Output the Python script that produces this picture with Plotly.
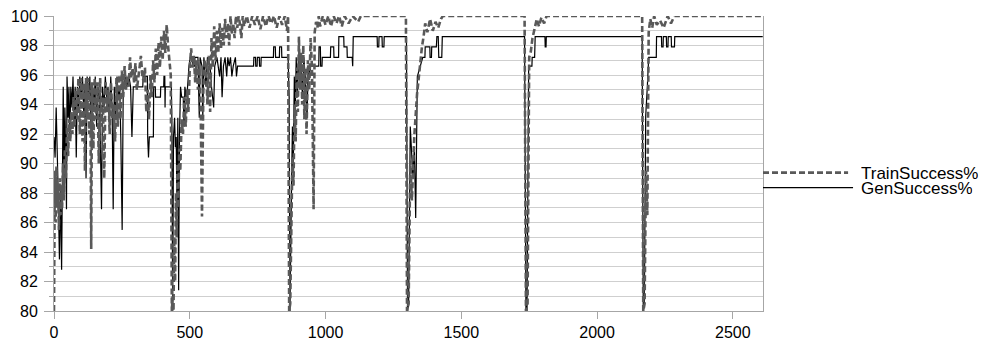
import plotly.graph_objects as go

# ---------------- data ----------------
gen_x = [0, 4, 8, 12, 16, 20, 24, 28, 31, 34, 37, 40, 43, 46, 48, 52, 55, 58, 62, 66,
         70, 74, 78, 82, 86, 90, 95, 100, 105, 110, 114, 118, 122, 127, 132, 137, 142, 147, 152, 157,
         162, 167, 171, 175, 179, 184, 189, 194, 199, 204, 209, 214, 218, 222, 227, 232, 237, 242, 246, 251,
         255, 262, 268, 276, 282, 287, 292, 327, 328, 344, 345, 348, 351, 366, 367, 373, 374, 392, 393, 404,
         405, 408, 409, 410, 432, 434, 437, 440, 444, 447, 450, 453, 456, 459, 462, 466, 470, 476, 479, 482,
         487, 492, 497, 502, 510, 512, 517, 519, 530, 535, 538, 545, 548, 552, 560, 565, 575, 580, 588, 592,
         600, 610, 615, 619, 624, 630, 636, 640, 645, 650, 655, 660, 668, 672, 676, 686, 735, 736, 742, 743,
         748, 749, 756, 757, 762, 763, 808, 809, 815, 816, 830, 831, 838, 839, 862, 866, 869, 874, 878, 881,
         885, 888, 892, 896, 900, 905, 910, 915, 920, 925, 932, 936, 940, 945, 975, 976, 981, 982, 987, 988,
         1018, 1019, 1030, 1031, 1048, 1049, 1067, 1068, 1079, 1080, 1098, 1100, 1102, 1190, 1191, 1196, 1197, 1208, 1209, 1215,
         1216, 1298, 1302, 1306, 1312, 1318, 1322, 1327, 1332, 1338, 1348, 1358, 1366, 1367, 1384, 1385, 1390, 1391, 1408, 1410,
         1415, 1417, 1428, 1430, 1733, 1738, 1742, 1748, 1760, 1761, 1770, 1772, 1808, 1809, 1812, 1813, 2166, 2170, 2174, 2179,
         2185, 2190, 2218, 2219, 2237, 2238, 2243, 2244, 2255, 2256, 2261, 2262, 2273, 2274, 2285, 2286, 2610]
gen_y = [91.8, 90.4, 93.8, 91.1, 87.6, 83.5, 88.3, 82.8, 89.0, 95.2, 88.3, 93.8, 91.1, 86.9, 95.9, 93.1, 95.2, 91.8, 95.2, 93.8,
         95.9, 92.5, 95.2, 90.4, 95.2, 93.8, 95.9, 94.5, 95.9, 93.1, 95.2, 89.0, 95.9, 94.5, 95.9, 91.8, 95.2, 93.8, 95.9, 92.5,
         95.2, 94.5, 91.1, 86.9, 95.2, 93.8, 95.9, 94.5, 95.2, 92.5, 95.9, 93.8, 86.9, 95.2, 93.1, 95.9, 94.5, 95.2, 91.8, 85.5,
         95.2, 95.9, 95.2, 95.9, 95.2, 91.8, 95.2, 95.2, 95.9, 95.9, 91.8, 90.4, 91.8, 91.8, 95.2, 95.2, 94.5, 94.5, 95.2, 95.2,
         95.9, 95.9, 93.8, 95.2, 95.2, 93.1, 80.0, 91.8, 93.1, 91.1, 91.8, 87.0, 93.1, 81.4, 91.8, 95.2, 94.5, 94.5, 92.5, 95.2,
         94.5, 95.2, 96.6, 97.2, 97.2, 96.6, 96.6, 97.2, 97.2, 93.1, 97.2, 96.6, 93.1, 97.2, 95.2, 97.2, 96.6, 95.2, 93.8, 96.6,
         97.2, 95.9, 97.2, 94.5, 96.6, 97.2, 95.9, 97.2, 96.6, 97.2, 95.9, 96.6, 97.2, 95.9, 96.6, 96.6, 96.6, 97.2, 97.2, 96.6,
         96.6, 97.2, 97.2, 96.6, 96.6, 97.2, 97.2, 97.9, 97.9, 97.2, 97.2, 97.9, 97.9, 97.2, 97.2, 94.5, 80.0, 87.5, 92.5, 89.5,
         95.9, 93.1, 97.2, 94.5, 97.2, 95.2, 96.6, 94.5, 97.2, 95.9, 93.1, 96.6, 95.9, 96.6, 96.6, 97.9, 97.9, 96.6, 96.6, 97.2,
         97.2, 97.9, 97.9, 97.2, 97.2, 98.6, 98.6, 97.9, 97.9, 97.2, 97.2, 96.6, 98.6, 98.6, 97.9, 97.9, 98.6, 98.6, 97.9, 97.9,
         98.6, 98.6, 80.0, 80.5, 92.5, 90.4, 89.0, 91.1, 86.3, 95.9, 96.6, 97.2, 97.2, 97.9, 97.9, 97.2, 97.2, 97.9, 97.9, 98.6,
         98.6, 97.2, 97.2, 98.6, 98.6, 80.0, 80.0, 96.6, 96.6, 97.2, 97.2, 98.6, 98.6, 97.9, 97.9, 98.6, 98.6, 80.0, 80.5, 93.2,
         95.2, 97.2, 97.2, 98.6, 98.6, 97.9, 97.9, 98.6, 98.6, 97.9, 97.9, 98.6, 98.6, 97.9, 97.9, 98.6, 98.6]

train_x = [0, 3, 6, 9, 12, 15, 18, 21, 24, 27, 30, 33, 36, 40, 44, 48, 52, 56, 60, 64,
           68, 72, 76, 80, 85, 90, 95, 100, 105, 110, 114, 118, 122, 126, 130, 134, 137, 140, 145, 150,
           155, 160, 165, 170, 175, 180, 185, 190, 195, 200, 205, 210, 215, 220, 225, 230, 235, 240, 245, 250,
           255, 260, 265, 270, 275, 280, 285, 290, 295, 300, 305, 310, 315, 320, 325, 330, 335, 340, 345, 350,
           355, 360, 365, 370, 375, 380, 385, 390, 395, 400, 405, 410, 415, 420, 425, 430, 434, 437, 440, 443,
           446, 449, 452, 455, 458, 461, 465, 470, 475, 480, 485, 490, 495, 500, 505, 510, 515, 520, 525, 530,
           535, 540, 545, 550, 555, 560, 565, 570, 575, 580, 585, 590, 595, 600, 605, 610, 615, 620, 625, 630,
           635, 640, 645, 650, 655, 660, 665, 670, 675, 680, 685, 690, 695, 700, 710, 720, 730, 740, 750, 760,
           770, 780, 790, 800, 810, 820, 830, 840, 850, 858, 862, 866, 870, 874, 878, 882, 886, 890, 894, 898,
           902, 906, 910, 914, 918, 922, 926, 930, 935, 940, 945, 950, 956, 960, 965, 970, 975, 980, 990, 1000,
           1010, 1020, 1030, 1040, 1050, 1060, 1070, 1085, 1100, 1120, 1130, 1296, 1300, 1306, 1312, 1318, 1327, 1337, 1345, 1355,
           1361, 1367, 1375, 1385, 1395, 1405, 1415, 1425, 1432, 1733, 1738, 1744, 1750, 1756, 1762, 1770, 1778, 1786, 1795, 1805,
           1814, 2166, 2170, 2175, 2180, 2185, 2190, 2196, 2203, 2210, 2220, 2232, 2245, 2260, 2272, 2285, 2610]
train_y = [80.0, 89.5, 86.0, 89.8, 87.0, 88.5, 85.5, 89.0, 86.5, 88.5, 87.0, 90.0, 87.5, 91.0, 89.0, 92.5, 90.5, 93.0, 91.5, 93.5,
           92.0, 94.5, 92.5, 95.0, 93.0, 95.8, 92.0, 95.8, 91.5, 95.5, 89.5, 95.8, 93.0, 95.8, 92.0, 95.0, 84.2, 95.5, 91.0, 95.8,
           93.0, 95.5, 90.0, 95.8, 92.5, 94.5, 89.0, 95.5, 93.5, 95.0, 92.0, 95.5, 93.0, 94.0, 91.5, 95.8, 92.5, 96.0, 93.0, 96.3,
           94.5, 96.6, 95.0, 96.0, 95.2, 97.2, 95.8, 96.5, 95.5, 96.8, 95.0, 96.0, 96.5, 97.3, 96.0, 95.5, 96.5, 93.5, 95.0, 93.0,
           96.0, 94.5, 97.0, 95.5, 97.8, 96.0, 98.2, 96.5, 98.6, 97.0, 99.0, 97.5, 99.4, 98.0, 97.0, 96.0, 80.0, 81.0, 80.0, 85.0,
           82.0, 88.0, 85.0, 90.0, 87.0, 91.0, 89.5, 93.0, 92.0, 94.5, 92.5, 95.0, 93.5, 96.5, 97.8, 96.5, 97.3, 95.5, 97.0, 95.0,
           96.5, 94.0, 86.4, 95.0, 97.0, 96.5, 94.0, 97.3, 93.5, 98.5, 96.5, 99.3, 97.0, 99.0, 97.5, 99.5, 97.8, 99.2, 98.0, 99.8,
           98.5, 99.5, 98.0, 100.0, 98.8, 99.5, 98.5, 100.0, 99.2, 100.0, 99.4, 98.5, 100.0, 99.3, 100.0, 99.2, 100.0, 99.4, 100.0, 99.1,
           100.0, 99.3, 100.0, 99.5, 100.0, 99.2, 100.0, 99.4, 100.0, 99.0, 100.0, 80.0, 80.5, 86.0, 90.5, 88.5, 94.0, 91.5, 96.5, 93.5,
           98.6, 95.0, 97.5, 94.0, 98.0, 93.0, 96.5, 92.0, 97.0, 95.0, 98.5, 96.5, 86.9, 98.9, 99.6, 99.2, 100.0, 99.3, 100.0, 99.4,
           100.0, 99.3, 100.0, 99.5, 100.0, 99.3, 100.0, 99.5, 100.0, 99.6, 100.0, 100.0, 80.0, 80.5, 90.2, 87.5, 91.9, 94.7, 96.3, 97.9,
           98.6, 99.5, 98.9, 99.8, 99.0, 99.6, 99.2, 99.8, 100.0, 100.0, 80.0, 80.5, 97.2, 97.6, 98.5, 99.2, 99.8, 99.3, 99.9, 99.5,
           100.0, 100.0, 80.0, 80.5, 89.5, 86.5, 98.9, 99.8, 99.2, 100.0, 99.4, 99.7, 99.2, 100.0, 99.5, 100.0, 100.0]

series_names = ["TrainSuccess%", "GenSuccess%"]
x_ticks = [0, 500, 1000, 1500, 2000, 2500]
y_ticks = [80, 82, 84, 86, 88, 90, 92, 94, 96, 98, 100]

# ---------------- styles ----------------
TRAIN_COLOR = "#595959"
GEN_COLOR = "#000000"
TRAIN_DASH = "6px,3px"
FONT = "Liberation Sans, Arial, sans-serif"

fig = go.Figure()
fig.add_trace(go.Scatter(x=gen_x, y=gen_y, mode="lines", name=series_names[1],
                         line=dict(color=GEN_COLOR, width=1.2), showlegend=False))
fig.add_trace(go.Scatter(x=train_x, y=train_y, mode="lines", name=series_names[0],
                         line=dict(color=TRAIN_COLOR, width=2.6, dash=TRAIN_DASH), showlegend=False))

# manual legend to the right of the plot area
legend_rows = [(series_names[0], 0.469, TRAIN_COLOR, 2.6, TRAIN_DASH, 1.12),
               (series_names[1], 0.418, GEN_COLOR, 1.2, "solid", 1.127)]
for name, ypos, col, w, dash, xend in legend_rows:
    fig.add_shape(type="line", xref="paper", yref="paper", x0=1.0, x1=xend, y0=ypos, y1=ypos,
                  line=dict(color=col, width=w, dash=dash))
    fig.add_annotation(xref="paper", yref="paper", x=1.135, y=ypos, text=name, showarrow=False,
                       xanchor="left", yanchor="middle", height=14,
                       font=dict(family=FONT, size=17, color="#000"))

# page body has an 8px margin, so the figure is made 8px smaller on each axis
fig.update_layout(
    width=992, height=337,
    margin=dict(l=46, r=237, t=8, b=34, autoexpand=False),
    paper_bgcolor="white", plot_bgcolor="white",
    font=dict(family=FONT, size=16, color="#000"),
    showlegend=False,
)
fig.update_xaxes(range=[0, 2611], tickvals=x_ticks, showgrid=False, zeroline=False,
                 showline=True, linecolor="#a6a6a6", linewidth=1,
                 ticks="outside", ticklen=7, tickcolor="#a6a6a6", tickfont=dict(size=16),
                 ticklabeloverflow="allow")
fig.update_yaxes(range=[80, 100], tickvals=y_ticks, showgrid=True, gridcolor="#cfcfcf", gridwidth=1,
                 zeroline=False, showline=True, mirror=True, linecolor="#a6a6a6", linewidth=1,
                 ticks="outside", ticklen=9, tickcolor="#a6a6a6", tickfont=dict(size=16),
                 ticklabelstandoff=3, ticklabeloverflow="allow",
                 minor=dict(dtick=1, showgrid=True, gridcolor="#cfcfcf", gridwidth=1,
                            ticks="outside", ticklen=4, tickcolor="#a6a6a6"))

fig.write_html("out.html")
